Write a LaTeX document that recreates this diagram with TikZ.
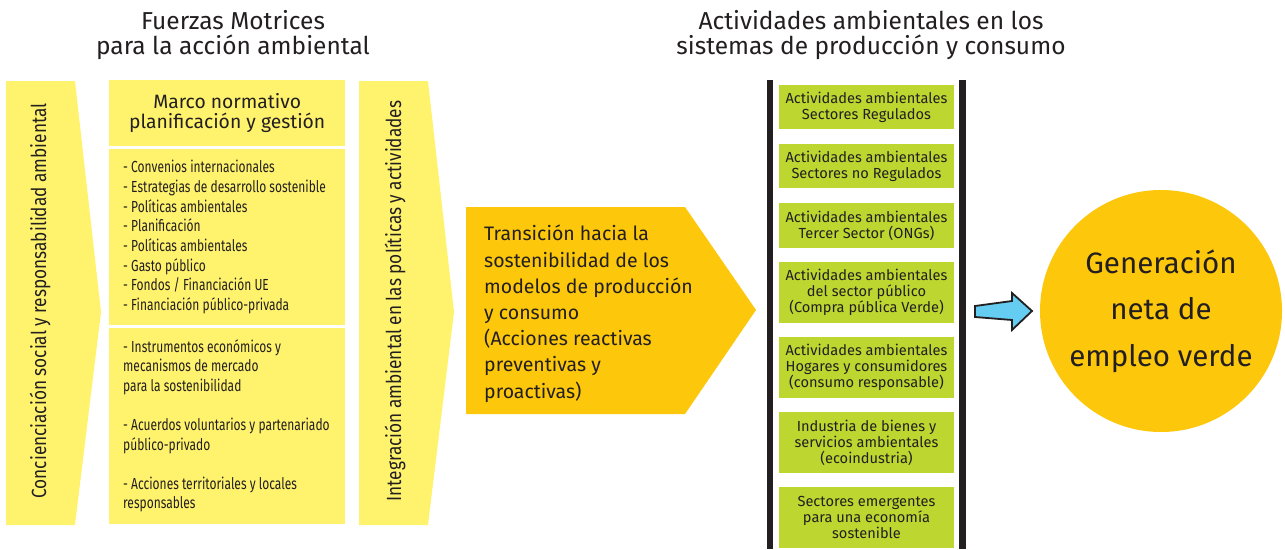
\documentclass[tikz,border=0pt]{standalone}
\usepackage{fontspec}
\setmainfont{Fira Sans}
\newfontfamily\condfont[FakeStretch=0.75]{Fira Sans}
\newfontfamily\vcondfont[FakeStretch=0.84]{Fira Sans}
\definecolor{lyellow}{HTML}{FFF36E}
\definecolor{orng}{HTML}{FDC70C}
\definecolor{lgreen}{HTML}{BED630}
\definecolor{ink}{HTML}{231F20}
\definecolor{sky}{HTML}{65CDF2}
\tikzset{
  ybox/.style={fill=lyellow, draw=none, inner sep=0pt},
  gbox/.style={fill=lgreen, draw=none, minimum width=175, inner sep=0pt, align=center,
    text=ink, font=\fontsize{14.6}{16}\selectfont},
  headtxt/.style={align=center, text=ink, font=\fontsize{24.5}{25}\selectfont, inner sep=0pt},
  listtxt/.style={align=left, text=ink, inner sep=0pt, anchor=north west},
  vtxt/.style={rotate=90, text=ink, inner sep=0pt, font=\vcondfont\fontsize{20.5}{20}\selectfont},
  bar/.style={fill=ink}
}
\begin{document}
\begin{tikzpicture}[x=1pt,y=-1pt]
\useasboundingbox (0,0) rectangle (1285,549);

% headings
\node[headtxt] (h1) at (233,35) {Fuerzas Motrices\\para la acción ambiental};
\node[headtxt] (h2) at (871,35) {Actividades ambientales en los\\sistemas de producción y consumo};

% left chevron
\fill[lyellow] (6,81) -- (75,81) -- (101,312) -- (75,525) -- (6,525) -- cycle;
\node[vtxt] (concien) at (40,301) {Concienciación social y responsabilidad ambiental};

% middle boxes
\node[ybox, minimum width=236, minimum height=66, anchor=north west, align=center,
  text=ink, font=\fontsize{19.3}{20.5}\selectfont] (marco) at (109,80)
  {Marco normativo\\planificación y gestión};
\node[ybox, minimum width=236, minimum height=176, anchor=north west] (lista) at (109,149) {};
\node[ybox, minimum width=236, minimum height=196, anchor=north west] (instr) at (109,328) {};

\node[listtxt, font=\condfont\fontsize{16}{19.7}\selectfont] (listaT) at (123,160)
  {- Convenios internacionales\\
   - Estrategias de desarrollo sostenible\\
   - Políticas ambientales\\
   - Planificación\\
   - Políticas ambientales\\
   - Gasto público\\
   - Fondos / Financiación UE\\
   - Financiación público-privada};

\node[listtxt, font=\condfont\fontsize{16}{19.6}\selectfont] (instrT) at (123,339)
  {- Instrumentos económicos y\\
   mecanismos de mercado\\
   para la sostenibilidad\\[19.6pt]
   - Acuerdos voluntarios y partenariado\\
   público-privado\\[19.6pt]
   - Acciones territoriales y locales\\
   responsables};

% second chevron
\fill[lyellow] (359,81) -- (428,81) -- (454,312) -- (428,525) -- (359,525) -- cycle;
\node[vtxt] (integr) at (395,301) {Integración ambiental en las políticas y actividades};

% orange arrow
\fill[orng] (466,207) -- (685,207) -- (756,310) -- (685,414) -- (466,414) -- cycle;
\node[listtxt, font=\fontsize{19.5}{26.2}\selectfont] (trans) at (484,225)
  {Transición hacia la\\
   sostenibilidad de los\\
   modelos de producción\\
   y consumo\\
   (Acciones reactivas\\
   preventivas y\\
   proactivas)};

% bars
\fill[bar] (767,80) rectangle (773,549);
\fill[bar] (959,80) rectangle (966,549);

% green boxes
\node[gbox, minimum height=44, anchor=north] (g1) at (866.5,85) {Actividades ambientales\\Sectores Regulados};
\node[gbox, minimum height=44, anchor=north] (g2) at (866.5,144) {Actividades ambientales\\Sectores no Regulados};
\node[gbox, minimum height=45, anchor=north] (g3) at (866.5,203) {Actividades ambientales\\Tercer Sector (ONGs)};
\node[gbox, minimum height=61, anchor=north] (g4) at (866.5,262) {Actividades ambientales\\del sector público\\(Compra pública Verde)};
\node[gbox, minimum height=61, anchor=north] (g5) at (866.5,337) {Actividades ambientales\\Hogares y consumidores\\(consumo responsable)};
\node[gbox, minimum height=61, anchor=north] (g6) at (866.5,412) {Industria de bienes y\\servicios ambientales\\(ecoindustria)};
\node[gbox, minimum height=61, anchor=north] (g7) at (866.5,487) {Sectores emergentes\\para una economía\\sostenible};

% circle
\node[circle, fill=orng, minimum size=242, inner sep=0pt, align=center, text=ink,
  font=\fontsize{29.5}{46.5}\selectfont] (gen) at (1161,311) {Generación\\neta de\\empleo verde};

% blue block arrow
\coordinate (tail) at (975,311);
\draw[fill=sky, draw=ink, line width=1.8pt, line join=miter]
  (tail) ++(0,-5) -- (1012,301) -- (1012,293) -- (1032,311) -- (1012,330) -- (1012,320) -- (975,317) -- cycle;

\end{tikzpicture}
\end{document}
